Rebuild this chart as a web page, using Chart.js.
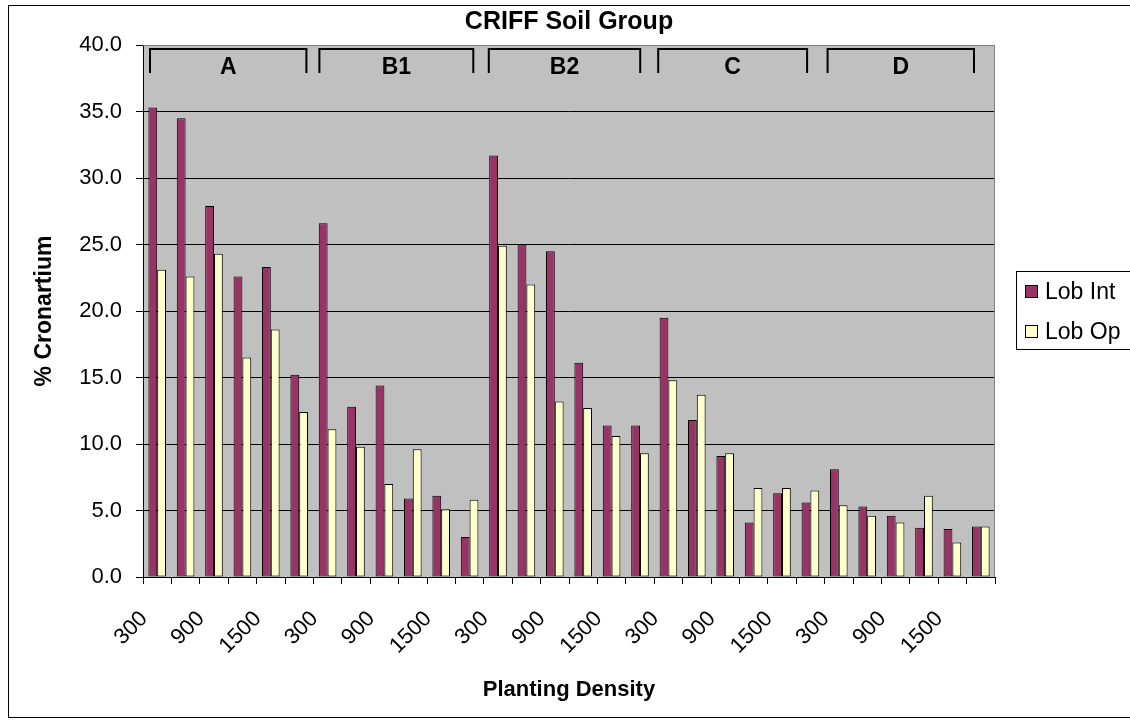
<!DOCTYPE html>
<html>
<head>
<meta charset="utf-8">
<script src="https://cdn.jsdelivr.net/npm/chart.js@4.4.1/dist/chart.umd.min.js"></script>
<style>
  html, body { margin: 0; padding: 0; background: #fff; }
  #wrap { width: 1130px; height: 727px; }
</style>
</head>
<body>
<div id="wrap"><canvas id="myChart" width="1130" height="727"></canvas></div>
<script>
// soil groups, each has 6 planting densities
const groups = ["A", "B1", "B2", "C", "D"];
const densities = ["300", "600", "900", "1200", "1500", "1800"];

const lobInt = [
	35.3, 34.5, 27.9, 22.6, 23.3, 15.2,
	26.6, 12.8, 14.4, 5.9, 6.1, 3.0,
	31.7, 25.0, 24.5, 16.1, 11.4, 11.4,
	19.5, 11.8, 9.1, 4.1, 6.3, 5.6,
	8.1, 5.3, 4.6, 3.7, 3.6, 3.8,
];
const lobOp = [
	23.1, 22.6, 24.3, 16.5, 18.6, 12.4,
	11.1, 9.8, 7.0, 9.6, 5.1, 5.8,
	24.9, 22.0, 13.2, 12.7, 10.6, 9.3,
	14.8, 13.7, 9.3, 6.7, 6.7, 6.5,
	5.4, 4.6, 4.1, 6.1, 2.6, 3.8,
];

var labels = [];
groups.forEach((g) => {
	densities.forEach((d) => labels.push(d));
});

const FONT = "'Liberation Sans', Arial, sans-serif";

// gray plot background and outer frame
const backgroundPlugin = {
	id: "background",
	beforeDraw(chart) {
		var ctx = chart.ctx;
		var a = chart.chartArea;
		ctx.save();
		ctx.fillStyle = "#fff";
		ctx.fillRect(0, 0, chart.width, chart.height);
		ctx.strokeStyle = "#000";
		ctx.lineWidth = 1;
		ctx.strokeRect(8.5, 5.5, chart.width + 10, 712);
		ctx.fillStyle = "#c0c0c0";
		ctx.fillRect(a.left, a.top, a.right - a.left, a.bottom - a.top);
		ctx.restore();
	},
	afterDraw(chart) {
		var ctx = chart.ctx;
		var a = chart.chartArea;
		ctx.save();
		ctx.strokeStyle = "#808080";
		ctx.lineWidth = 1;
		ctx.beginPath();
		ctx.moveTo(a.left, a.top + 0.5);
		ctx.lineTo(a.right - 0.5, a.top + 0.5);
		ctx.lineTo(a.right - 0.5, a.bottom);
		ctx.stroke();
		ctx.restore();
	},
};

// brackets with group names at the top of the plot
const groupPlugin = {
	id: "groupBrackets",
	afterDatasetsDraw(chart) {
		var ctx = chart.ctx;
		var x = chart.scales.x;
		var half = (x.getPixelForValue(1) - x.getPixelForValue(0)) / 2;
		var top = chart.chartArea.top + 4;
		ctx.save();
		ctx.strokeStyle = "#000";
		ctx.lineWidth = 2;
		ctx.fillStyle = "#000";
		ctx.font = "bold 23px " + FONT;
		ctx.textAlign = "center";
		ctx.textBaseline = "middle";
		groups.forEach((g, i) => {
			var n = densities.length;
			var left = x.getPixelForValue(i * n) - half + 7 - i;
			var right = x.getPixelForValue(i * n + n - 1) + half - 7 - i * 3.5;
			ctx.beginPath();
			ctx.moveTo(left, top + 24);
			ctx.lineTo(left, top);
			ctx.lineTo(right, top);
			ctx.lineTo(right, top + 24);
			ctx.stroke();
			ctx.fillText(g, (left + right) / 2, top + 19);
		});
		ctx.restore();
	},
};

// boxed legend on the right
const legendPlugin = {
	id: "boxLegend",
	afterDraw(chart) {
		var ctx = chart.ctx;
		ctx.save();
		ctx.strokeStyle = "#000";
		ctx.lineWidth = 1;
		ctx.strokeRect(1016.5, 271.5, 130, 78);
		ctx.font = "23px " + FONT;
		ctx.textBaseline = "middle";
		ctx.textAlign = "left";
		chart.data.datasets.forEach((ds, i) => {
			var y = 292 + i * 40;
			ctx.fillStyle = ds.backgroundColor;
			ctx.fillRect(1025.5, y - 6.5, 12, 12);
			ctx.strokeRect(1025.5, y - 6.5, 12, 12);
			ctx.fillStyle = "#000";
			ctx.fillText(ds.label, 1045, y + 1);
		});
		ctx.restore();
	},
};

const chartCanvas = document.getElementById("myChart").getContext("2d");

const chart = new Chart(chartCanvas, {
	type: "bar",
	data: {
		labels: labels,
		datasets: [
			{
				label: "Lob Int",
				data: lobInt,
				backgroundColor: "#993366",
				borderColor: "#000",
				borderWidth: 1,
				borderSkipped: false,
				categoryPercentage: 0.62,
				barPercentage: 1.0,
			},
			{
				label: "Lob Op",
				data: lobOp,
				backgroundColor: "#ffffcc",
				borderColor: "#000",
				borderWidth: 1,
				borderSkipped: false,
				categoryPercentage: 0.62,
				barPercentage: 1.0,
			},
		],
	},
	options: {
		responsive: false,
		animation: false,
		devicePixelRatio: 1,
		layout: {
			padding: { left: 0, right: 135, top: 0, bottom: 0 },
		},
		plugins: {
			legend: { display: false },
			tooltip: { enabled: false },
			title: {
				display: true,
				fullSize: false,
				text: "CRIFF Soil Group",
				color: "#000",
				font: { family: FONT, size: 25, weight: "bold" },
				padding: { top: 7, bottom: 8 },
			},
		},
		scales: {
			x: {
				offset: true,
				afterFit(scale) {
					scale.height = 150;
				},
				grid: {
					offset: true,
					drawOnChartArea: false,
					drawTicks: true,
					tickLength: 7,
					color: "#000",
				},
				border: { color: "#000", width: 1 },
				ticks: {
					autoSkip: false,
					minRotation: 45,
					maxRotation: 45,
					padding: 22,
					labelOffset: -13,
					color: "#000",
					font: { family: FONT, size: 22 },
					callback: function (value, index) {
						return index % 2 === 0 ? this.getLabelForValue(value) : "";
					},
				},
				title: {
					display: true,
					text: "Planting Density",
					color: "#000",
					font: { family: FONT, size: 22, weight: "bold" },
					padding: { top: 0, bottom: 24 },
				},
			},
			y: {
				min: 0,
				max: 40,
				afterFit(scale) {
					scale.width = 143;
				},
				grid: {
					color: function (c) {
						return c.tick && c.tick.value === 40 ? "#808080" : "#000";
					},
					tickColor: "#000",
					tickLength: 7,
					lineWidth: 1,
				},
				border: { color: "#000", width: 1 },
				ticks: {
					stepSize: 5,
					padding: 14,
					color: "#000",
					font: { family: FONT, size: 22 },
					callback: (v) => v.toFixed(1),
				},
				title: {
					display: true,
					text: "% Cronartium",
					color: "#000",
					font: { family: FONT, size: 23, weight: "bold" },
					padding: { top: 31, bottom: 0 },
				},
			},
		},
	},
	plugins: [backgroundPlugin, groupPlugin, legendPlugin],
});
</script>
</body>
</html>
